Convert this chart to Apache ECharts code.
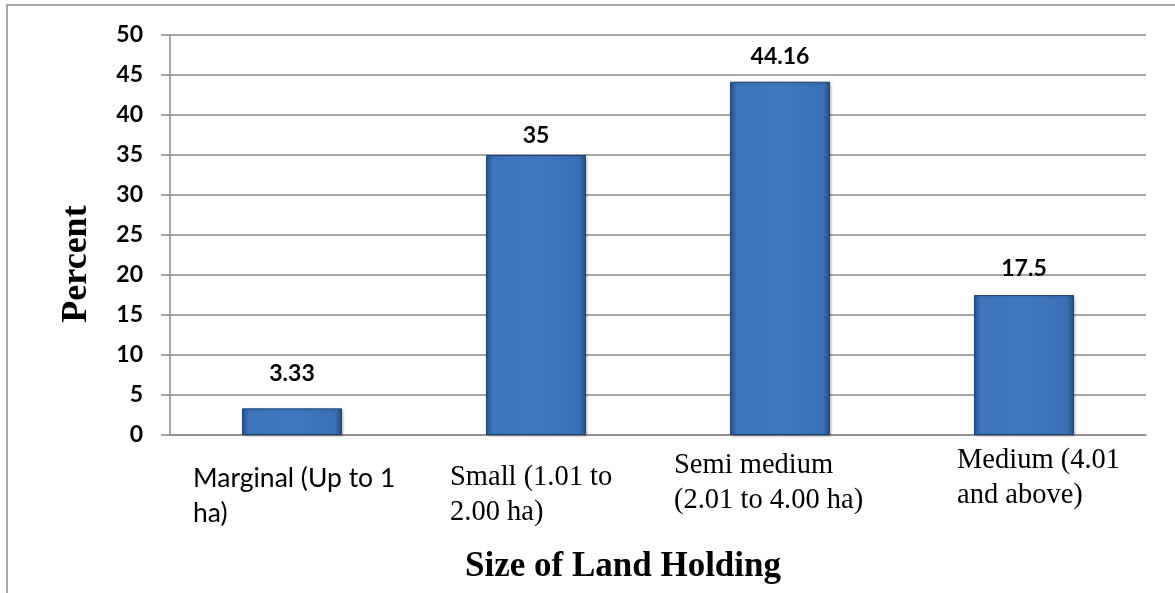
<!DOCTYPE html>
<html>
<head>
<meta charset="utf-8">
<style>
  html, body { margin: 0; padding: 0; background: #fff; }
  #chart { width: 1175px; height: 593px; }
</style>
<script src="https://cdn.jsdelivr.net/npm/echarts@6/dist/echarts.min.js"></script>
</head>
<body>
<div id="chart"></div>
<script>
// data
const categories = ['Marginal (Up to 1\nha)', 'Small (1.01 to\n2.00 ha)', 'Semi medium\n(2.01 to 4.00 ha)', 'Medium (4.01\nand above)'];
const percent = [3.33, 35, 44.16, 17.5];
const yTicks = [0, 5, 10, 15, 20, 25, 30, 35, 40, 45, 50];

// label look per category (first one is in a sans font in the original)
const labelFonts = ['Lato', 'Liberation Serif', 'Liberation Serif', 'Liberation Serif'];
const labelWidths = [198, 172, 212, 134];
const labelDrop = [18, 17, 5, 0];

const rich = {};
categories.forEach((c, i) => {
    rich['c' + i] = {
        fontFamily: labelFonts[i],
        fontSize: i === 0 ? 26.5 : 28.5,
        lineHeight: 35,
        width: labelWidths[i],
        align: 'left',
        color: '#000'
    };
    rich['s' + i] = { fontSize: 1, lineHeight: labelDrop[i], height: labelDrop[i] };
});

const barColor = new echarts.graphic.LinearGradient(0, 0, 1, 0, [
    { offset: 0, color: '#2b5894' },
    { offset: 0.07, color: '#3d74bb' },
    { offset: 0.5, color: '#4079c0' },
    { offset: 0.93, color: '#3a70b5' },
    { offset: 1, color: '#264f86' }
]);

const labelShift = [-5, 10, 4, 3];

const chart = echarts.init(document.getElementById('chart'));
chart.setOption({
    animation: false,
    grid: { left: 170, right: 29, top: 35, bottom: 158 },
    graphic: [{
        type: 'rect',
        shape: { x: 7, y: 5, width: 1300, height: 800 },
        style: { fill: 'none', stroke: '#8a8a8a', lineWidth: 1.5 },
        silent: true
    }],
    xAxis: {
        type: 'category',
        data: categories,
        name: 'Size of Land Holding',
        nameLocation: 'middle',
        nameGap: 114,
        nameTextStyle: {
            fontFamily: 'Liberation Serif', fontWeight: 'bold', fontSize: 35, color: '#000',
            padding: [0, 70, 0, 0]
        },
        axisLine: { lineStyle: { color: '#8a8a8a', width: 1.5 } },
        axisTick: { show: false },
        axisLabel: {
            interval: 0,
            margin: 8,
            formatter: (val, idx) => {
                const lines = val.split('\n').map(l => '{c' + idx + '|' + l + '}');
                const top = labelDrop[idx] ? '{s' + idx + '| }\n' : '';
                return top + lines.join('\n');
            },
            rich: rich
        }
    },
    yAxis: {
        type: 'value',
        min: yTicks[0],
        max: yTicks[yTicks.length - 1],
        interval: 5,
        name: 'Percent',
        nameLocation: 'middle',
        nameGap: 75,
        nameTextStyle: {
            fontFamily: 'Liberation Serif', fontWeight: 'bold', fontSize: 36, color: '#000',
            padding: [0, 58, 0, 0]
        },
        axisLine: { show: true, lineStyle: { color: '#8a8a8a', width: 1.5 } },
        axisTick: { show: true, length: 9, lineStyle: { color: '#8a8a8a', width: 1.5 } },
        axisLabel: {
            margin: 27,
            fontFamily: 'Lato', fontWeight: 'bold', fontSize: 23, color: '#000'
        },
        splitLine: { lineStyle: { color: '#8a8a8a', width: 1.5 } }
    },
    series: [{
        type: 'bar',
        barWidth: 100,
        data: percent.map((v, i) => ({
            value: v,
            label: { offset: [0, labelShift[i]] }
        })),
        itemStyle: {
            color: barColor,
            borderColor: '#1f4577',
            borderWidth: 1,
            shadowColor: 'rgba(0,0,0,0.25)',
            shadowBlur: 3,
            shadowOffsetX: 1,
            shadowOffsetY: 1
        },
        label: {
            show: true,
            position: 'top',
            distance: 18,
            fontFamily: 'Lato', fontWeight: 'bold', fontSize: 23, color: '#000'
        }
    }]
});
</script>
</body>
</html>
